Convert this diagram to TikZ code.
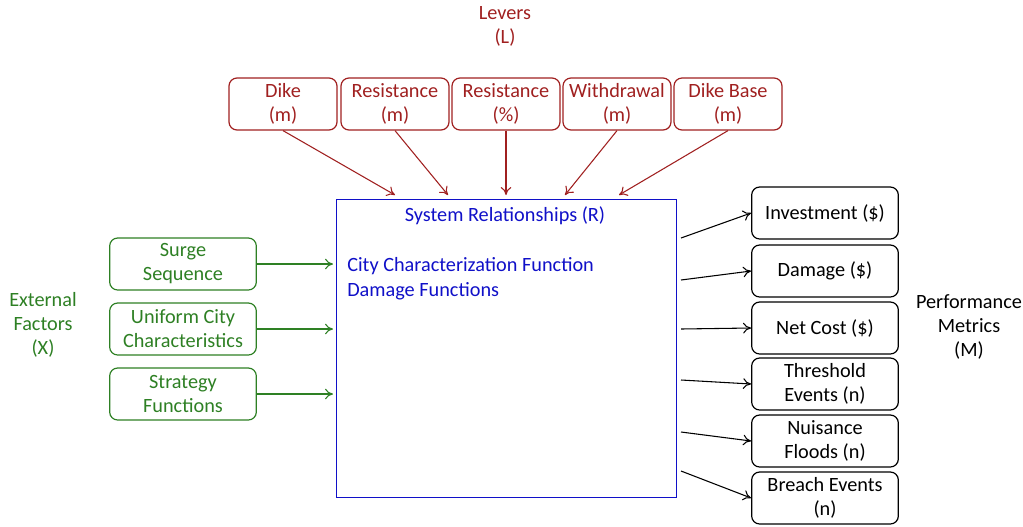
\documentclass[tikz,border=0pt]{standalone}
\usepackage{fontspec}
\setmainfont{Carlito}
\usepackage{xcolor}
\usetikzlibrary{arrows.meta}
\definecolor{levred}{RGB}{160,32,32}
\definecolor{extgreen}{RGB}{46,128,36}
\definecolor{sysblue}{RGB}{16,16,200}
\begin{document}
\begin{tikzpicture}[x=0.75pt,y=-0.75pt,
  every node/.style={font=\fontsize{15.2}{18}\selectfont, inner sep=0pt, align=center},
  lever/.style={draw=levred, text=levred, line width=0.9pt, rounded corners=6pt, minimum width=81pt, minimum height=39pt},
  factor/.style={draw=extgreen, text=extgreen, line width=0.9pt, rounded corners=6pt, minimum width=110pt, minimum height=39pt},
  metric/.style={draw=black, text=black, line width=0.9pt, rounded corners=6pt, minimum width=110pt, minimum height=39pt},
  redarr/.style={-{To[length=6pt,width=8pt]}, draw=levred, line width=0.8pt},
  greenarr/.style={-{To[length=6pt,width=8pt]}, draw=extgreen, line width=0.8pt},
  blackarr/.style={-{To[length=6pt,width=8pt]}, draw=black, line width=0.8pt}]
  \useasboundingbox (0,0) rectangle (1023,526);
  % levers
  \node[text=levred] (levers) at (505,26) {Levers\\(L)};
  \node[lever] (dike) at (283,104) {Dike\\(m)};
  \node[lever] (resm) at (395,104) {Resistance\\(m)};
  \node[lever] (resp) at (506,104) {Resistance\\(\%)};
  \node[lever] (withd) at (617,104) {Withdrawal\\(m)};
  \node[lever] (dbase) at (728,104) {Dike Base\\(m)};
  % system
  \node[draw=sysblue, line width=0.7pt, minimum width=255pt, minimum height=223.5pt] (sys) at (506,348) {};
  \node[text=sysblue] (sysname) at (505,216) {System Relationships (R)};
  \node[text=sysblue, anchor=west] (cityfn) at (347,266) {City Characterization Function};
  \node[text=sysblue, anchor=west] (dmgfn) at (347,291) {Damage Functions};
  \coordinate (in1) at (395,195);
  \coordinate (in2) at (448,195);
  \coordinate (in3) at (506,195);
  \coordinate (in4) at (565,195);
  \coordinate (in5) at (619,195);
  \draw[redarr] (dike.south) -- (in1);
  \draw[redarr] (resm.south) -- (in2);
  \draw[redarr] (resp.south) -- (in3);
  \draw[redarr] (withd.south) -- (in4);
  \draw[redarr] (dbase.south) -- (in5);
  % external factors
  \node[text=extgreen] (extf) at (43,325) {External\\Factors\\(X)};
  \node[factor] (surge) at (183,264) {Surge\\Sequence};
  \node[factor] (city) at (183,329) {Uniform City\\Characteristics};
  \node[factor] (strat) at (183,394) {Strategy\\Functions};
  \coordinate (x1) at (333,264);
  \coordinate (x2) at (333,329);
  \coordinate (x3) at (333,394);
  \draw[greenarr] (surge.east) -- (x1);
  \draw[greenarr] (city.east) -- (x2);
  \draw[greenarr] (strat.east) -- (x3);
  % performance metrics
  \node (perf) at (969,327) {Performance\\Metrics\\(M)};
  \node[metric] (invest) at (825,213) {Investment (\$)};
  \node[metric] (damage) at (825,271) {Damage (\$)};
  \node[metric] (netcost) at (825,328) {Net Cost (\$)};
  \node[metric] (thresh) at (825,384) {Threshold\\Events (n)};
  \node[metric] (nuis) at (825,441) {Nuisance\\Floods (n)};
  \node[metric] (breach) at (825,498) {Breach Events\\(n)};
  \coordinate (m1) at (681,238);
  \coordinate (m2) at (681,280);
  \coordinate (m3) at (681,329);
  \coordinate (m4) at (681,380);
  \coordinate (m5) at (681,432);
  \coordinate (m6) at (681,471);
  \draw[blackarr] (m1) -- (invest.west);
  \draw[blackarr] (m2) -- (damage.west);
  \draw[blackarr] (m3) -- (netcost.west);
  \draw[blackarr] (m4) -- (thresh.west);
  \draw[blackarr] (m5) -- (nuis.west);
  \draw[blackarr] (m6) -- (breach.west);
\end{tikzpicture}
\end{document}
